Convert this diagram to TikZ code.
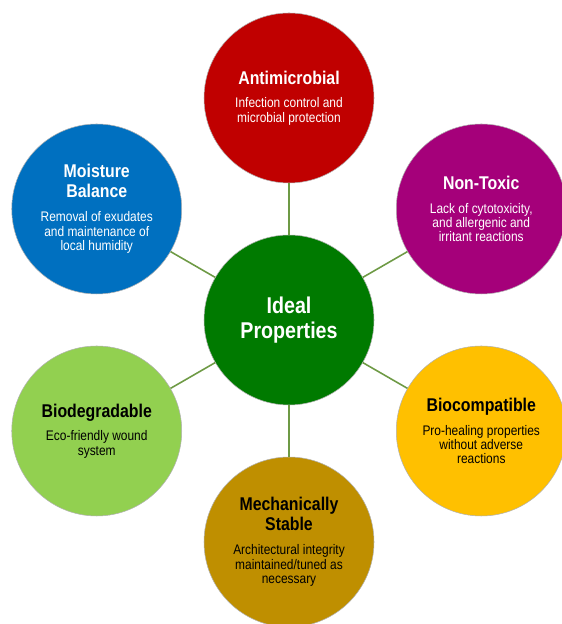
\documentclass[tikz,border=0pt]{standalone}
\usepackage{fontspec}
\setmainfont{Liberation Sans}[FakeStretch=0.86]

\definecolor{idealgreen}{HTML}{007A00}
\definecolor{antired}{HTML}{C00000}
\definecolor{toxpurple}{HTML}{A5007A}
\definecolor{moistblue}{HTML}{0070C0}
\definecolor{biogreen}{HTML}{92D050}
\definecolor{compyellow}{HTML}{FFC000}
\definecolor{mechgold}{HTML}{BF8F00}
\definecolor{linkgreen}{HTML}{6E9A45}

\newcommand{\centrefont}{\bfseries\fontsize{13}{14.2}\selectfont}
\newcommand{\proptitle}{\bfseries\fontsize{10.5}{11.4}\selectfont}
\newcommand{\propdesc}{\mdseries\fontsize{7.9}{8.2}\selectfont\lineskiplimit=-\maxdimen}

\begin{document}
\begin{tikzpicture}
    \useasboundingbox (0,0) rectangle (11.22,12.48);

    \begin{scope}[shift={(5.78,6.08)},
        every node/.style={circle,minimum size=3.4cm,inner sep=0pt,align=center,
          draw=black!30,line width=0.3pt,font=\propdesc}]
      \node[fill=idealgreen,text=white,font=\centrefont] (ideal) at (0,0) {Ideal\\Properties};
      \node[fill=antired,text=white] (anti) at (90:4.44)
        {{\proptitle Antimicrobial}\\[5.4pt]Infection control and\\microbial protection};
      \node[fill=toxpurple,text=white] (tox) at (30:4.44)
        {{\proptitle Non-Toxic}\\[5.4pt]Lack of cytotoxicity,\\and allergenic and\\irritant reactions};
      \node[fill=moistblue,text=white] (moist) at (150:4.44)
        {{\proptitle Moisture}\\[3.1pt]{\proptitle Balance}\\[5.4pt]Removal of exudates\\and maintenance of\\local humidity};
      \node[fill=biogreen,text=black] (bio) at (210:4.44)
        {{\proptitle Biodegradable}\\[5.4pt]Eco-friendly wound\\system};
      \node[fill=compyellow,text=black] (comp) at (330:4.44)
        {{\proptitle Biocompatible}\\[5.4pt]Pro-healing properties\\without adverse\\reactions};
      \node[fill=mechgold,text=black] (mech) at (270:4.44)
        {{\proptitle Mechanically}\\[3.1pt]{\proptitle Stable}\\[5.4pt]Architectural integrity\\maintained/tuned as\\necessary};
    \end{scope}

    \begin{scope}[every edge/.style={draw=linkgreen,line width=0.9pt}]
      \path (ideal) edge (anti);
      \path (ideal) edge (tox);
      \path (ideal) edge (comp);
      \path (ideal) edge (mech);
      \path (ideal) edge (bio);
      \path (ideal) edge (moist);
    \end{scope}
\end{tikzpicture}
\end{document}
